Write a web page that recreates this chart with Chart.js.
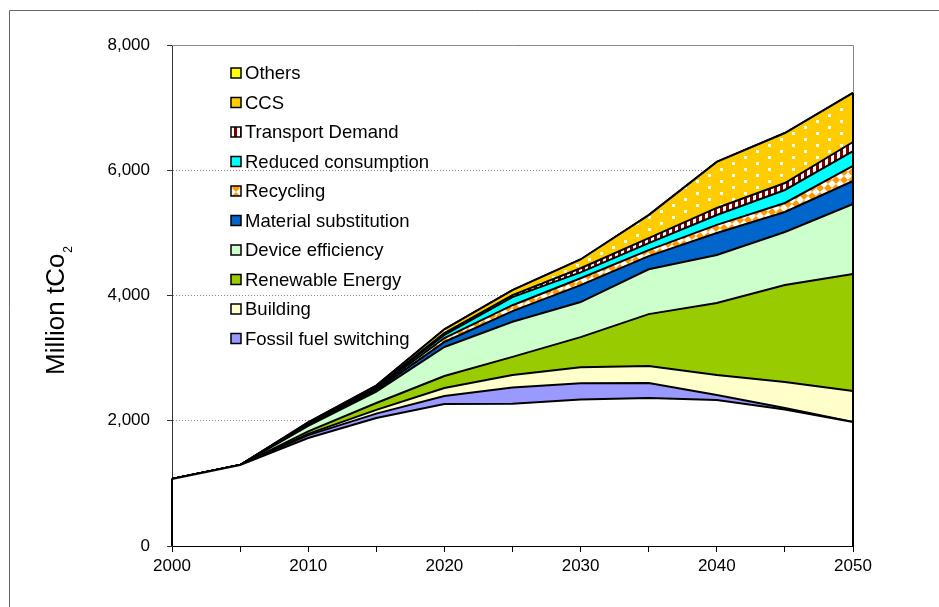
<!DOCTYPE html>
<html>
<head>
<meta charset="utf-8">
<script src="https://cdn.jsdelivr.net/npm/chart.js@4/dist/chart.umd.min.js"></script>
<style>
  html, body { margin: 0; padding: 0; background: #fff; }
  #wrap { width: 939px; height: 607px; position: relative; }
</style>
</head>
<body>
<div id="wrap"><canvas id="chart" width="939" height="607"></canvas></div>
<script>
// x categories and y tick values
const years = ['2000', '2005', '2010', '2015', '2020', '2025', '2030', '2035', '2040', '2045', '2050'];
const yTicks = [0, 2000, 4000, 6000, 8000];

// remaining emissions (white base) and reduction wedges, Million tCO2
const baseline = [1070, 1293, 1725, 2044, 2267, 2270, 2340, 2363, 2331, 2180, 1980];
const fossilFuel = [0, 0, 45, 70, 128, 260, 260, 240, 80, 24, 0];
const building = [0, 0, 20, 60, 128, 200, 255, 270, 320, 415, 495];
const renewable = [0, 0, 40, 110, 192, 290, 480, 830, 1150, 1549, 1868];
const device = [0, 0, 90, 180, 463, 560, 560, 715, 767, 846, 1118];
const material = [0, 0, 15, 30, 80, 170, 270, 210, 351, 319, 367];
const recycling = [0, 0, 10, 20, 63, 95, 110, 97, 128, 144, 240];
const reduced = [0, 0, 10, 20, 49, 130, 95, 111, 159, 208, 239];
const transport = [0, 0, 5, 8, 30, 30, 65, 80, 112, 111, 144];
const ccs = [0, 0, 15, 20, 60, 80, 140, 367, 735, 799, 783];
const others = [0, 0, 0, 0, 0, 0, 0, 0, 0, 0, 0];

const FONT = "'Liberation Sans', Arial, sans-serif";
const canvas = document.getElementById('chart');
const ctx = canvas.getContext('2d');

/**
 * Build a repeating fill pattern from a small tile
 */
function makePattern(w, h, draw) {
    const c = document.createElement('canvas');
    c.width = w;
    c.height = h;
    draw(c.getContext('2d'));
    return ctx.createPattern(c, 'repeat');
}

const dotsPattern = makePattern(24, 12, g => {
    g.fillStyle = '#FFCC00';
    g.fillRect(0, 0, 24, 12);
    g.fillStyle = '#fff';
    g.fillRect(0, 0, 3, 3);
    g.fillRect(12, 6, 3, 3);
});

const checkPattern = makePattern(8, 8, g => {
    g.fillStyle = '#fff';
    g.fillRect(0, 0, 8, 8);
    g.fillStyle = '#FF9900';
    g.beginPath();
    g.moveTo(4, 0);
    g.lineTo(8, 4);
    g.lineTo(4, 8);
    g.lineTo(0, 4);
    g.closePath();
    g.fill();
});

const stripePattern = makePattern(6, 6, g => {
    g.fillStyle = '#fff';
    g.fillRect(0, 0, 6, 6);
    g.fillStyle = '#800000';
    g.fillRect(0, 0, 3, 6);
});

function layer(label, data, color, isBase) {
    return {
        label: label,
        data: data,
        backgroundColor: color,
        borderColor: '#000',
        borderWidth: 2,
        fill: isBase ? 'origin' : '-1',
        pointRadius: 0,
        tension: 0,
        inLegend: !isBase
    };
}

const datasets = [
    layer('Baseline', baseline, '#ffffff', true),
    layer('Fossil fuel switching', fossilFuel, '#9999FF'),
    layer('Building', building, '#FFFFCC'),
    layer('Renewable Energy', renewable, '#99CC00'),
    layer('Device efficiency', device, '#CCFFCC'),
    layer('Material substitution', material, '#0066CC'),
    layer('Recycling', recycling, checkPattern),
    layer('Reduced consumption', reduced, '#00FFFF'),
    layer('Transport Demand', transport, stripePattern),
    layer('CCS', ccs, dotsPattern),
    layer('Others', others, '#FFFF00')
];

// outer frame, white background and plot-area border
const framePlugin = {
    id: 'frame',
    beforeDraw(chart) {
        const c = chart.ctx;
        c.save();
        c.fillStyle = '#fff';
        c.fillRect(0, 0, chart.width, chart.height);
        c.strokeStyle = '#666';
        c.lineWidth = 1;
        c.beginPath();
        c.moveTo(9.5, chart.height);
        c.lineTo(9.5, 10.5);
        c.lineTo(chart.width, 10.5);
        c.stroke();
        c.restore();
    },
    beforeDatasetsDraw(chart) {
        const a = chart.chartArea;
        const c = chart.ctx;
        c.save();
        c.strokeStyle = '#888';
        c.lineWidth = 1;
        c.beginPath();
        c.moveTo(a.left, a.top + 0.5);
        c.lineTo(a.right + 0.5, a.top + 0.5);
        c.lineTo(a.right + 0.5, a.bottom);
        c.stroke();
        c.restore();
    },
    afterDatasetsDraw(chart) {
        // closing vertical edges of the stacked areas
        const c = chart.ctx;
        const xs = chart.scales.x;
        const ys = chart.scales.y;
        const last = years.length - 1;
        c.save();
        c.strokeStyle = '#000';
        c.lineWidth = 2;
        [0, last].forEach(i => {
            let total = 0;
            chart.data.datasets.forEach(ds => { total += ds.data[i]; });
            const x = xs.getPixelForValue(i);
            c.beginPath();
            c.moveTo(x, ys.getPixelForValue(0));
            c.lineTo(x, ys.getPixelForValue(total));
            c.stroke();
        });
        c.restore();
    }
};

// legend inside the plot area plus the y-axis title with subscript
const legendPlugin = {
    id: 'insideLegend',
    afterDraw(chart) {
        const c = chart.ctx;
        c.save();
        const items = chart.data.datasets.filter(ds => ds.inLegend).reverse();
        c.font = '18.5px ' + FONT;
        c.textBaseline = 'middle';
        c.textAlign = 'left';
        items.forEach((ds, i) => {
            const y = 73 + i * 29.5;
            c.fillStyle = ds.backgroundColor;
            c.fillRect(231, y - 5, 10, 10);
            c.strokeStyle = '#000';
            c.lineWidth = 1.5;
            c.strokeRect(231, y - 5, 10, 10);
            c.fillStyle = '#000';
            c.fillText(ds.label, 245, y + 1);
        });

        c.translate(64, 375);
        c.rotate(-Math.PI / 2);
        c.textBaseline = 'alphabetic';
        c.font = '26px ' + FONT;
        const main = 'Million tCo';
        c.fillText(main, 0, 0);
        const w = c.measureText(main).width;
        c.font = '12px ' + FONT;
        c.fillText('2', w + 1, 8);
        c.restore();
    }
};

new Chart(canvas, {
    type: 'line',
    data: { labels: years, datasets: datasets },
    options: {
        responsive: false,
        animation: false,
        layout: { padding: { top: 45, right: 86, left: 0, bottom: 0 } },
        plugins: {
            legend: { display: false },
            tooltip: { enabled: false },
            filler: { propagate: false }
        },
        scales: {
            x: {
                type: 'category',
                offset: false,
                afterFit: s => { s.height = 61; },
                grid: {
                    drawOnChartArea: false,
                    tickLength: 6,
                    tickColor: '#000'
                },
                border: { color: '#000', width: 1 },
                ticks: {
                    autoSkip: false,
                    maxRotation: 0,
                    padding: 4,
                    color: '#000',
                    font: { family: FONT, size: 17 },
                    callback: (v, i) => (i % 2 === 0 ? years[i] : '')
                }
            },
            y: {
                stacked: true,
                min: 0,
                max: 8000,
                afterFit: s => { s.width = 172; },
                afterBuildTicks: s => { s.ticks = yTicks.map(v => ({ value: v })); },
                grid: {
                    color: c => (c.tick && (c.tick.value === 0 || c.tick.value === 8000) ? 'rgba(0,0,0,0)' : '#888'),
                    lineWidth: 1,
                    tickLength: 5,
                    tickColor: '#333',
                    tickBorderDash: []
                },
                border: { color: '#333', width: 1, dash: [1, 2] },
                ticks: {
                    padding: 17,
                    color: '#000',
                    font: { family: FONT, size: 17 },
                    callback: v => v.toLocaleString('en-US')
                }
            }
        }
    },
    plugins: [framePlugin, legendPlugin]
});
</script>
</body>
</html>
